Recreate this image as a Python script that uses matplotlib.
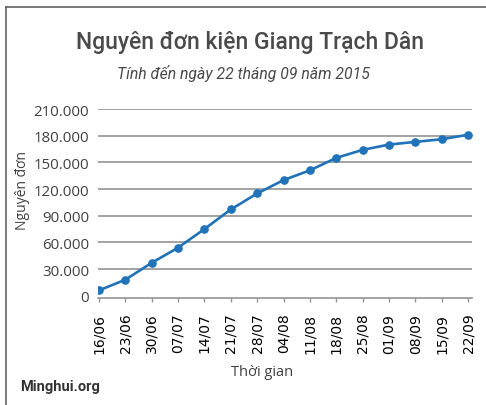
import matplotlib
matplotlib.use("Agg")
import matplotlib.pyplot as plt
from matplotlib.lines import Line2D

dates = ["16/06", "23/06", "30/06", "07/07", "14/07", "21/07", "28/07", "04/08",
         "11/08", "18/08", "25/08", "01/09", "08/09", "15/09", "22/09"]
values = [6000, 18000, 37000, 54000, 75000, 97000, 115000, 130000,
          141000, 155000, 164000, 170000, 173000, 176000, 181000]
yticks = [0, 30000, 60000, 90000, 120000, 150000, 180000, 210000]
ytick_labels = ["0", "30.000", "60.000", "90.000", "120.000", "150.000", "180.000", "210.000"]

title = "Nguyên đơn kiện Giang Trạch Dân"
subtitle = "Tính đến ngày 22 tháng 09 năm 2015"

W, H = 486, 406
fig = plt.figure(figsize=(W / 100, H / 100), dpi=100)
fig.patch.set_facecolor("white")

narrow = ["Roboto", "DejaVu Sans"]
sans = ["Open Sans", "DejaVu Sans"]

# axes placement in pixels
left, right, top, bottom = 98, 472, 110, 296.7
ax = fig.add_axes([left / W, 1 - bottom / H, (right - left) / W, (bottom - top) / H])

xs = list(range(len(dates)))
ax.plot(xs, values, color="#2073b9", lw=1.9, marker="o", markersize=5.2,
        markerfacecolor="#2073b9", markeredgecolor="#2073b9", zorder=3,
        solid_capstyle="round")

spacing = (468 - 99) / 14
ax.set_xlim(-1 / spacing, 14 + 4 / spacing)
ax.set_ylim(0, 210000)

ax.set_yticks(yticks)
ax.set_yticklabels(ytick_labels, family=sans, fontsize=10.8, color="#404040")
ax.set_xticks(xs)
ax.set_xticklabels(dates, family=sans, fontsize=11, color="#404040")

ax.grid(axis="y", color="#949494", lw=1.2)
ax.set_axisbelow(True)
gl = ax.yaxis.get_gridlines()
gl[0].set_visible(False)

for s in ["top", "right", "left"]:
    ax.spines[s].set_visible(False)
ax.spines["bottom"].set_color("#949494")
ax.spines["bottom"].set_linewidth(1.2)
ax.spines["bottom"].set_position(("outward", 2.0))

ax.tick_params(axis="y", length=0, pad=6.5)
ax.tick_params(axis="x", length=3.2, width=1.0, color="#949494", pad=7,
               direction="out", labelrotation=90)

# texts
fig.text(250 / W, 1 - 43 / H, title, ha="center", va="center",
         family=narrow, fontsize=16.5, weight="medium", color="#4a4a4a")
fig.text(243 / W, 1 - 73 / H, subtitle, ha="center", va="center",
         family=narrow, fontsize=11.3, style="italic", color="#4a4a4a")
fig.text(22 / W, 1 - 191 / H, "Nguyên đơn", rotation=90, ha="center", va="center",
         family=sans, fontsize=10, color="#404040")
fig.text(262 / W, 1 - 373 / H, "Thời gian", ha="center", va="center",
         family=sans, fontsize=10.5, color="#404040")
fig.text(20 / W, 1 - 387 / H, "Minghui.org", ha="left", va="center",
         family=narrow, fontsize=10.5, weight="bold", color="#333333")

# frame lines (top and left)
fig.add_artist(Line2D([6 / W, 6 / W], [0, 1 - 8 / H], transform=fig.transFigure,
                      color="#555555", lw=1.1))
fig.add_artist(Line2D([6 / W, 1], [1 - 8 / H, 1 - 8 / H], transform=fig.transFigure,
                      color="#555555", lw=1.1))

fig.savefig("out.png", dpi=100)
